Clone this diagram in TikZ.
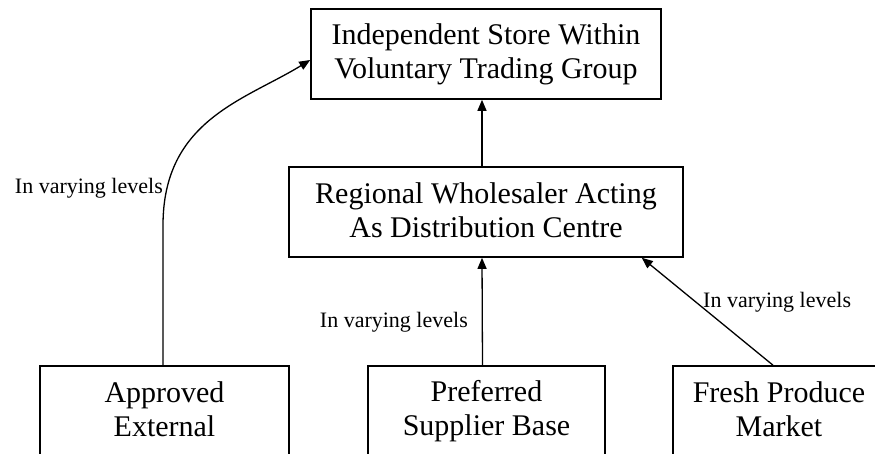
\documentclass[tikz,border=0pt]{standalone}
\usepackage{fontspec}
\setmainfont{Liberation Serif}
\usetikzlibrary{arrows.meta}
\begin{document}
\begin{tikzpicture}[x=1pt, y=-1pt, >={Triangle[length=11pt,width=9pt]},
  box/.style = {shape=rectangle, draw, line width=1.6pt, align=center, minimum height=90pt,
    inner sep=0pt, font=\fontsize{30}{34}\selectfont,
    execute at begin node={\rule{0pt}{30pt}}, execute at end node={\rule[-4pt]{0pt}{4pt}}},
  lbl/.style = {inner sep=0pt, font=\fontsize{22}{26}\selectfont},
  link/.style = {->, line width=1.3pt}]
  \clip (0,0) rectangle (875,453);
  \node[box, minimum width=350pt] (store) at (486,54) {Independent Store Within\\Voluntary Trading Group};
  \node[box, minimum width=394pt] (reg) at (486,212) {Regional Wholesaler Acting\\As Distribution Centre};
  \node[box, minimum width=249pt] (app) at (164.5,411) {Approved\\External};
  \node[box, minimum width=237pt] (pref) at (486.5,411) {Preferred\\Supplier Base};
  \node[box, minimum width=212pt] (fresh) at (779,411) {Fresh Produce\\Market};
  \draw[link] ([xshift=-4pt]reg.north) -- ([xshift=-4pt]store.south);
  \draw[link] ([xshift=-4pt]pref.north) -- ([xshift=-4pt]reg.south);
  \draw[link] ([xshift=-6pt]fresh.north) -- ([xshift=-42pt]reg.south east);
  \draw[link] ([xshift=-1.5pt]app.north) -- ++(0,-140) .. controls ++(0,-105) and (245,100) .. ([yshift=-6pt]store.west);
  \node[lbl, anchor=base east] (lapp) at (163,193) {In varying levels};
  \node[lbl, anchor=base east] (lpref) at (468,327) {In varying levels};
  \node[lbl, anchor=base west] (lfresh) at (703,307) {In varying levels};
\end{tikzpicture}
\end{document}
